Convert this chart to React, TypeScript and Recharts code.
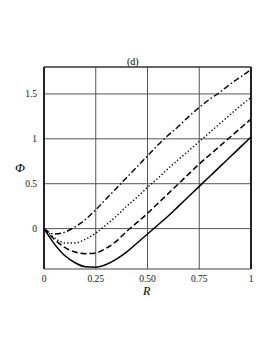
import { CartesianGrid, Line, LineChart, ReferenceLine, XAxis, YAxis } from "recharts";

const rValues = [0, 0.05, 0.1, 0.15, 0.2, 0.25, 0.3, 0.35, 0.4, 0.45, 0.5, 0.55, 0.6, 0.65, 0.7, 0.75, 0.8, 0.85, 0.9, 0.95, 1];

const solid = [0, -0.17, -0.3, -0.38, -0.425, -0.43, -0.4, -0.34, -0.26, -0.16, -0.06, 0.04, 0.14, 0.25, 0.36, 0.47, 0.58, 0.69, 0.8, 0.91, 1.02];
const dashed = [0, -0.12, -0.21, -0.26, -0.28, -0.27, -0.22, -0.14, -0.03, 0.07, 0.17, 0.28, 0.39, 0.5, 0.61, 0.72, 0.82, 0.92, 1.02, 1.12, 1.22];
const dotted = [0, -0.1, -0.16, -0.16, -0.12, -0.05, 0.04, 0.14, 0.25, 0.35, 0.46, 0.56, 0.67, 0.77, 0.87, 0.97, 1.07, 1.17, 1.27, 1.37, 1.46];
const dashDot = [0, -0.06, -0.04, 0.02, 0.1, 0.21, 0.33, 0.45, 0.57, 0.69, 0.81, 0.93, 1.04, 1.14, 1.25, 1.35, 1.44, 1.52, 1.61, 1.69, 1.77];

const xTicks = [0, 0.25, 0.5, 0.75, 1];
const xTickLabels = ["0", "0.25", "0.50", "0.75", "1"];
const yTicks = [0, 0.5, 1, 1.5];
const yTickLabels = ["0", "0.5", "1", "1.5"];

const data = rValues.map((r, i) => ({
  R: r,
  solid: solid[i],
  dashed: dashed[i],
  dotted: dotted[i],
  dashDot: dashDot[i],
}));

const font = "'Liberation Serif', 'DejaVu Serif', serif";
const tickStyle = { fontFamily: font, fontSize: 9.5, fill: "#111" };

const App = () => {
  return (
    <div style={{ position: "relative", width: 265, height: 345, fontFamily: font, lineHeight: 1 }}>
      <LineChart width={265} height={345} data={data} margin={{ top: 59, right: 22, bottom: 54, left: 0 }}>
        <CartesianGrid stroke="#555" strokeWidth={1} horizontalValues={yTicks} verticalValues={xTicks} />
        <XAxis
          dataKey="R"
          type="number"
          domain={[0, 1]}
          ticks={xTicks}
          tickFormatter={(v) => xTickLabels[xTicks.indexOf(v)]}
          tick={tickStyle}
          tickLine={false}
          axisLine={false}
          height={30}
          tickMargin={0}
        />
        <YAxis
          type="number"
          domain={[-0.45, 1.8]}
          ticks={yTicks}
          tickFormatter={(v) => yTickLabels[yTicks.indexOf(v)]}
          tick={tickStyle}
          tickLine={false}
          axisLine={false}
          width={36}
          tickMargin={1}
        />
        <ReferenceLine x={0} stroke="#222" strokeWidth={2} />
        <ReferenceLine x={1} stroke="#222" strokeWidth={2} />
        <ReferenceLine y={1.8} stroke="#333" strokeWidth={1.3} />
        <ReferenceLine y={-0.45} stroke="#444" strokeWidth={1} />
        <Line dataKey="solid" type="monotone" stroke="#000" strokeWidth={1.5} dot={false} isAnimationActive={false} />
        <Line dataKey="dashed" type="monotone" stroke="#000" strokeWidth={1.5} strokeDasharray="6 3" dot={false} isAnimationActive={false} />
        <Line dataKey="dotted" type="monotone" stroke="#000" strokeWidth={1.4} strokeDasharray="1.3 2.2" dot={false} isAnimationActive={false} />
        <Line dataKey="dashDot" type="monotone" stroke="#000" strokeWidth={1.4} strokeDasharray="6 2.5 1.5 2.5" dot={false} isAnimationActive={false} />
      </LineChart>
      <span style={{ position: "absolute", left: 119, top: 49, fontSize: 10 }}>(d)</span>
      <span style={{ position: "absolute", left: 7, top: 153, fontSize: 13, fontStyle: "italic" }}>Φ</span>
      <span style={{ position: "absolute", left: 135, top: 277, fontSize: 12, fontStyle: "italic" }}>R</span>
    </div>
  );
};

export default App;
